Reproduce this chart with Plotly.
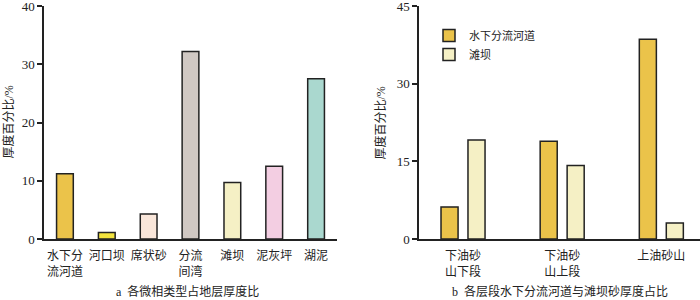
import plotly.graph_objects as go

# Chart a data
facies = ["水下分<br>流河道", "河口坝", "席状砂", "分流<br>间湾", "滩坝", "泥灰坪", "湖泥"]
facies_pct = [11.2, 1.1, 4.3, 32.2, 9.7, 12.5, 27.5]
facies_colors = ["#EBC34A", "#F2E33E", "#F9E6DA", "#D0C8C3", "#F5F0C5", "#F3CEE2", "#AAD8CF"]

# Chart b data
intervals = ["下油砂<br>山下段", "下油砂<br>山上段", "上油砂山"]
channel_pct = [6.2, 18.9, 38.6]
bar_pct = [19.1, 14.2, 3.1]
series_names = ["水下分流河道", "滩坝"]
series_colors = ["#EBC34A", "#F5F0C5"]

a_ticks = [0, 10, 20, 30, 40]
b_ticks = [0, 15, 30, 45]

FONT = "'Liberation Serif', 'Noto Sans CJK SC', serif"
INK = "#222222"
W, H = 700, 300

fig = go.Figure()

fig.add_trace(go.Bar(
    x=facies, y=facies_pct, xaxis="x", yaxis="y",
    marker=dict(color=facies_colors, line=dict(color=INK, width=1.5)),
    width=0.4, showlegend=False,
))

bw = 0.172
fig.add_trace(go.Bar(
    x=intervals, y=channel_pct, xaxis="x2", yaxis="y2", name=series_names[0],
    marker=dict(color=series_colors[0], line=dict(color=INK, width=1.5)),
    width=bw, offset=-0.222,
))
fig.add_trace(go.Bar(
    x=intervals, y=bar_pct, xaxis="x2", yaxis="y2", name=series_names[1],
    marker=dict(color=series_colors[1], line=dict(color=INK, width=1.5)),
    width=bw, offset=0.05,
))

axis_common = dict(showline=True, linecolor=INK, linewidth=1.5, showgrid=False, zeroline=False,
                   automargin=False, ticklabeloverflow="allow",
                   tickfont=dict(family=FONT, size=13, color=INK))
xcommon = dict(axis_common, ticks="", type="category",
               tickfont=dict(family=FONT, size=12, color=INK), ticklabelstandoff=5)
ycommon = dict(axis_common, ticks="outside", ticklen=5, tickwidth=1.5, tickcolor=INK)

y0, y1 = 1 - 239 / H, 1 - 6 / H

fig.update_layout(
    width=W, height=H,
    margin=dict(l=0, r=0, t=0, b=0, autoexpand=False),
    paper_bgcolor="white", plot_bgcolor="white",
    barmode="overlay",
    xaxis=dict(xcommon, domain=[44 / W, 337 / W], range=[-0.5, 6.5], anchor="y"),
    yaxis=dict(ycommon, domain=[y0, y1], range=[0, 40.001], tickvals=a_ticks, anchor="x"),
    xaxis2=dict(xcommon, domain=[419 / W, 1.0], range=[-0.444, 2.39], anchor="y2"),
    yaxis2=dict(ycommon, domain=[y0, y1], range=[0, 45.001], tickvals=b_ticks, anchor="x2"),
    legend=dict(x=429 / W, y=1 - 21 / H, xanchor="left", yanchor="top",
                font=dict(family=FONT, size=11, color=INK), bgcolor="rgba(0,0,0,0)"),
    annotations=[
        dict(text="厚度百分比/%", xref="paper", yref="paper", x=8 / W, y=(y0 + y1) / 2,
             xanchor="center", yanchor="middle",
             textangle=-90, showarrow=False, font=dict(family=FONT, size=12, color=INK)),
        dict(text="厚度百分比/%", xref="paper", yref="paper", x=380 / W, y=(y0 + y1) / 2,
             xanchor="center", yanchor="middle",
             textangle=-90, showarrow=False, font=dict(family=FONT, size=12, color=INK)),
        dict(text="a  各微相类型占地层厚度比", xref="paper", yref="paper", x=187 / W, y=1 - 291 / H,
             xanchor="center", yanchor="middle",
             showarrow=False, font=dict(family=FONT, size=12, color=INK)),
        dict(text="b  各层段水下分流河道与滩坝砂厚度占比", xref="paper", yref="paper", x=560 / W, y=1 - 291 / H,
             xanchor="center", yanchor="middle",
             showarrow=False, font=dict(family=FONT, size=12, color=INK)),
    ],
)

fig.write_html("out.html", config={"displayModeBar": False},
               post_script="document.body.style.margin='0';document.body.style.overflow='hidden';")
